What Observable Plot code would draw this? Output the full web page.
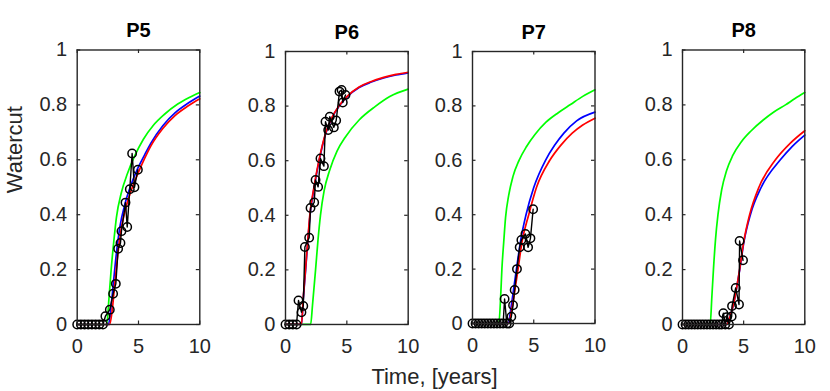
<!DOCTYPE html>
<html><head><meta charset="utf-8">
<script src="https://cdn.jsdelivr.net/npm/d3@7"></script>
<script src="https://cdn.jsdelivr.net/npm/@observablehq/plot@0.6"></script>
<style>
html,body{margin:0;padding:0;background:#fff;}
#chart{position:relative;width:830px;height:391px;overflow:hidden;}
#chart svg{position:absolute;overflow:visible;}
</style></head><body><div id="chart"></div>
<script>
// ---- data ----
const titles = ["P5", "P6", "P7", "P8"];
const xTicks = [0, 5, 10];
const yTicks = [0, 0.2, 0.4, 0.6, 0.8, 1];
const yTickLabels = ["0", "0.2", "0.4", "0.6", "0.8", "1"];
const xLabel = "Time, [years]";
const yLabel = "Watercut";

// observed watercut [time, value]
const obs5 = [[0,0],[0.3,0],[0.6,0],[0.9,0],[1.2,0],[1.5,0],[1.8,0],[2.1,0],[2.3,0.03],[2.66,0.054],[2.93,0.112],[3.15,0.148],[3.34,0.276],[3.53,0.297],[3.61,0.34],[3.94,0.444],[4.08,0.355],[4.29,0.493],[4.48,0.623],[4.67,0.5],[4.95,0.564]];
const obs6 = [[0,0],[0.3,0],[0.6,0],[0.9,0],[1.06,0.088],[1.3,0.045],[1.45,0.068],[1.58,0.284],[1.93,0.318],[2.04,0.427],[2.34,0.447],[2.45,0.529],[2.66,0.504],[2.85,0.608],[3.13,0.58],[3.26,0.743],[3.48,0.712],[3.61,0.761],[3.94,0.722],[4.13,0.747],[4.4,0.853],[4.57,0.859],[4.67,0.813],[4.89,0.841]];
const obs7 = [[0,0],[0.25,0],[0.5,0],[0.75,0],[1,0],[1.25,0],[1.5,0],[1.75,0],[2,0],[2.25,0],[2.5,0],[2.62,0.09],[2.8,0],[3,0],[3.17,0.025],[3.31,0.067],[3.44,0.123],[3.63,0.2],[3.85,0.28],[3.99,0.307],[4.32,0.329],[4.54,0.28],[4.73,0.313],[4.95,0.42]];
const obs8 = [[0,0],[0.25,0],[0.5,0],[0.75,0],[1,0],[1.25,0],[1.5,0],[1.75,0],[2,0],[2.25,0],[2.5,0],[2.75,0],[3,0],[3.2,0],[3.34,0.041],[3.5,0],[3.61,0.027],[3.8,0],[4.02,0.029],[4.05,0.067],[4.35,0.133],[4.62,0.073],[4.67,0.304],[4.95,0.234]];

// model curves [time, value]
const green5 = [[0,0],[2.4,0],[2.6,0.1],[2.77,0.2],[2.98,0.3],[3.2,0.39],[3.6,0.48],[4.1,0.55],[4.7,0.615],[5.4,0.675],[6.2,0.725],[7.1,0.765],[8.2,0.803],[9.1,0.826],[10,0.845]];
const blue5 = [[0,0],[2.55,0],[2.75,0.06],[2.95,0.15],[3.2,0.26],[3.5,0.36],[3.9,0.44],[4.4,0.51],[4.9,0.565],[5.5,0.618],[6.0,0.66],[7.0,0.725],[8.0,0.772],[9.0,0.805],[10,0.832]];
const red5 = [[0,0],[2.65,0],[2.85,0.05],[3.05,0.14],[3.3,0.25],[3.6,0.35],[4.0,0.43],[4.5,0.5],[5.0,0.555],[5.5,0.605],[6.0,0.65],[7.0,0.715],[8.0,0.762],[9.0,0.795],[10,0.822]];

const green6 = [[0,0],[2.05,0],[2.2,0.07],[2.45,0.2],[2.65,0.31],[2.85,0.4],[3.15,0.49],[3.6,0.565],[4.2,0.635],[4.9,0.688],[6.0,0.749],[7.3,0.798],[8.5,0.835],[10,0.862]];
const blue6 = [[0,0],[1.3,0],[1.46,0.1],[1.64,0.2],[1.81,0.3],[2.0,0.4],[2.33,0.5],[2.74,0.6],[3.28,0.7],[3.82,0.76],[4.37,0.8],[5,0.833],[6,0.868],[7,0.888],[8,0.903],[9,0.914],[10,0.922]];
const red6 = [[0,0],[1.3,0],[1.45,0.1],[1.63,0.2],[1.8,0.3],[1.98,0.4],[2.31,0.5],[2.72,0.6],[3.26,0.7],[3.8,0.76],[4.35,0.8],[5,0.835],[6,0.87],[7,0.89],[8,0.905],[9,0.916],[10,0.924]];

const green7 = [[0,0],[2.15,0],[2.3,0.1],[2.4,0.2],[2.55,0.3],[2.7,0.39],[2.95,0.47],[3.3,0.54],[3.8,0.6],[4.4,0.65],[5.1,0.695],[6.0,0.74],[7.0,0.775],[8.0,0.805],[9,0.835],[10,0.859]];
const blue7 = [[0,0],[2.9,0],[3.15,0.06],[3.4,0.14],[3.65,0.22],[3.95,0.31],[4.37,0.4],[5.0,0.5],[5.96,0.6],[6.7,0.655],[7.46,0.7],[8.5,0.745],[10,0.777]];
const red7 = [[0,0],[2.95,0],[3.2,0.05],[3.45,0.12],[3.72,0.2],[4.04,0.3],[4.59,0.4],[5.22,0.5],[6.31,0.6],[7.2,0.655],[8.14,0.7],[9,0.73],[10,0.755]];

const green8 = [[0,0],[2.26,0],[2.4,0.1],[2.53,0.2],[2.7,0.31],[2.9,0.4],[3.2,0.49],[3.6,0.56],[4.1,0.615],[4.8,0.665],[5.6,0.705],[6.6,0.745],[7.5,0.775],[8.42,0.8],[9.2,0.823],[10,0.845]];
const blue8 = [[0,0],[3.6,0],[3.9,0.03],[4.2,0.08],[4.45,0.14],[4.68,0.2],[5.02,0.3],[5.55,0.4],[6.44,0.5],[8.0,0.6],[9,0.65],[10,0.69]];
const red8 = [[0,0],[3.6,0],[3.9,0.03],[4.2,0.08],[4.45,0.14],[4.67,0.2],[5.0,0.3],[5.49,0.4],[6.25,0.5],[7.6,0.6],[8.8,0.66],[10,0.706]];

// ---- layout (pixel frame of each panel) ----
const layout = [
  {left: 76.7, right: 199.3, top: 49.5, bottom: 324},
  {left: 285, right: 407.7, top: 51, bottom: 324},
  {left: 472, right: 594.5, top: 51, bottom: 323},
  {left: 682, right: 804.3, top: 49.5, bottom: 324}
];
const series = [
  {obs: obs5, green: green5, blue: blue5, red: red5},
  {obs: obs6, green: green6, blue: blue6, red: red6},
  {obs: obs7, green: green7, blue: blue7, red: red7},
  {obs: obs8, green: green8, blue: blue8, red: red8}
];

const FONT = '"Liberation Sans", Arial, Helvetica, sans-serif';
const AX = "#262626";
const rows = arr => arr.map(([t, w]) => ({t, w}));
const chart = document.getElementById("chart");

titles.forEach((title, i) => {
  const L = layout[i], S = series[i];
  const ml = i === 0 ? L.left : 40;
  const mr = 12;
  const iw = L.right - L.left;
  const ih = L.bottom - L.top;
  const H = 391;
  const marks = [
    Plot.line(rows(S.green), {x: "t", y: "w", stroke: "#00ff00", strokeWidth: 1.7, curve: "monotone-x"}),
    Plot.line(rows(S.blue), {x: "t", y: "w", stroke: "#0000ff", strokeWidth: 1.7, curve: "monotone-x"}),
    Plot.line(rows(S.red), {x: "t", y: "w", stroke: "#ff0000", strokeWidth: 1.7, curve: "monotone-x"}),
    Plot.line(rows(S.obs), {x: "t", y: "w", stroke: "#000", strokeWidth: 1.4}),
    Plot.dot(rows(S.obs), {x: "t", y: "w", r: 4.2, stroke: "#000", strokeWidth: 1.5, fill: "none"}),
    Plot.frame({stroke: AX, strokeWidth: 1.4}),
    Plot.tickX(xTicks, {x: d => d, insetTop: ih - 3.5, stroke: AX, strokeWidth: 1.2}),
    Plot.tickX(xTicks, {x: d => d, insetBottom: ih - 3.5, stroke: AX, strokeWidth: 1.2}),
    Plot.tickY(yTicks, {y: d => d, insetRight: iw - 3.5, stroke: AX, strokeWidth: 1.2}),
    Plot.tickY(yTicks, {y: d => d, insetLeft: iw - 3.5, stroke: AX, strokeWidth: 1.2}),
    Plot.axisX({ticks: xTicks, tickSize: 0, tickPadding: 14, label: null, fontSize: 20, fill: AX}),
    Plot.axisY({ticks: yTicks, tickSize: 0, tickPadding: 10, label: null, fontSize: 20, fill: AX,
      tickFormat: d => yTickLabels[yTicks.indexOf(d)]}),
    Plot.text([title], {frameAnchor: "top", dy: -19, lineAnchor: "middle", fontWeight: "bold", fontSize: 20, fill: "#000"})
  ];
  if (i === 0) {
    marks.push(Plot.text([yLabel], {frameAnchor: "left", rotate: -90, dx: 14.5 - L.left, dy: 6,
      lineAnchor: "middle", fontSize: 22, fill: AX}));
  }
  if (i === 1) {
    marks.push(Plot.text([xLabel], {frameAnchor: "bottom", dx: 434 - (L.left + L.right) / 2, dy: 52,
      lineAnchor: "middle", fontSize: 22, fill: AX}));
  }
  const svg = Plot.plot({
    width: ml + iw + mr,
    height: H,
    marginLeft: ml, marginRight: mr, marginTop: L.top, marginBottom: H - L.bottom,
    x: {domain: [0, 10]},
    y: {domain: [0, 1]},
    style: {background: "transparent", fontFamily: FONT, fontSize: "20px", color: AX, overflow: "visible"},
    marks
  });
  svg.style.left = (L.left - ml) + "px";
  svg.style.top = "0px";
  chart.appendChild(svg);
});
</script></body></html>
